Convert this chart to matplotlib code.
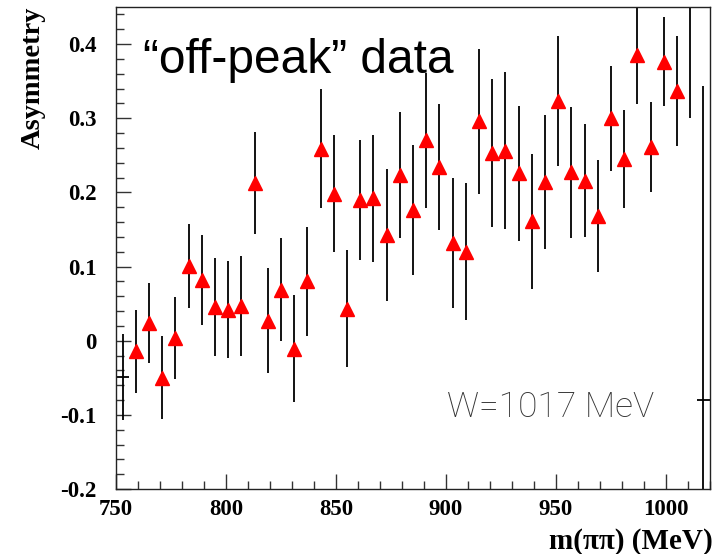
import matplotlib
matplotlib.use("Agg")
import matplotlib.pyplot as plt
from matplotlib.ticker import MultipleLocator

mass = [753, 759, 765, 771, 777, 783, 789, 795, 801, 807, 813, 819, 825, 831,
        837, 843, 849, 855, 861, 867, 873, 879, 885, 891, 897, 903, 909, 915,
        921, 927, 933, 939, 945, 951, 957, 963, 969, 975, 981, 987, 993, 999,
        1005, 1011, 1017]
asym = [-0.049, -0.014, 0.024, -0.050, 0.004, 0.101, 0.082, 0.046, 0.042,
        0.047, 0.213, 0.027, 0.069, -0.011, 0.080, 0.259, 0.198, 0.043,
        0.190, 0.192, 0.143, 0.224, 0.176, 0.270, 0.234, 0.132, 0.120,
        0.296, 0.253, 0.256, 0.226, 0.161, 0.214, 0.323, 0.227, 0.216,
        0.168, 0.300, 0.245, 0.385, 0.261, 0.376, 0.337, 0.500, -0.080]
err = [0.058, 0.056, 0.054, 0.056, 0.055, 0.057, 0.061, 0.066, 0.066, 0.067,
       0.069, 0.071, 0.069, 0.072, 0.073, 0.080, 0.079, 0.079, 0.081, 0.086,
       0.089, 0.085, 0.088, 0.091, 0.085, 0.088, 0.092, 0.098, 0.100, 0.106,
       0.091, 0.091, 0.090, 0.088, 0.088, 0.076, 0.076, 0.071, 0.066, 0.066,
       0.061, 0.060, 0.074, 0.200, 0.424]
# edge bins are drawn without a marker, only the error cross
no_marker = [753, 1017]
bin_half = 3

xticks = [750, 800, 850, 900, 950, 1000]
yticks = [-0.2, -0.1, 0.0, 0.1, 0.2, 0.3, 0.4]
ytick_labels = ["-0.2", "-0.1", "0", "0.1", "0.2", "0.3", "0.4"]

SERIF = "Liberation Serif"

fig = plt.figure(figsize=(7.23, 5.54), dpi=100)
ax = fig.add_axes([0.1604, 0.1173, 0.8216, 0.8701])

ax.errorbar(mass, asym, yerr=err, fmt="none", ecolor="black",
            elinewidth=1.3, capsize=0, zorder=2)

edge_x = [m for m in mass if m in no_marker]
edge_y = [a for m, a in zip(mass, asym) if m in no_marker]
ax.errorbar(edge_x, edge_y, xerr=bin_half, fmt="none", ecolor="black",
            elinewidth=1.3, capsize=0, zorder=2)

mk_x = [m for m in mass if m not in no_marker]
mk_y = [a for m, a in zip(mass, asym) if m not in no_marker]
ax.plot(mk_x, mk_y, "^", color="red", ms=10, mec="red", ls="none", zorder=3)

ax.set_xlim(750, 1020)
ax.set_ylim(-0.2, 0.45)
ax.set_xticks(xticks)
ax.set_xticklabels([str(t) for t in xticks])
ax.set_yticks(yticks)
ax.set_yticklabels(ytick_labels)
ax.xaxis.set_minor_locator(MultipleLocator(10))
ax.yaxis.set_minor_locator(MultipleLocator(0.02))
ax.tick_params(which="both", direction="in", top=False, right=False,
               color="#333333", width=1)
ax.tick_params(which="major", length=11)
ax.tick_params(which="minor", length=6)
ax.tick_params(axis="y", which="major", pad=14)
ax.tick_params(axis="x", which="major", pad=7)
for lab in ax.get_xticklabels() + ax.get_yticklabels():
    lab.set_fontfamily(SERIF)
    lab.set_fontweight("bold")
    lab.set_fontsize(16.5)

for sp in ax.spines.values():
    sp.set_linewidth(1.0)
    sp.set_color("#222222")

ax.set_ylabel("Asymmetry", fontfamily=SERIF, fontweight="bold",
              fontsize=20.5, loc="top")
ax.yaxis.set_label_coords(-0.118, 1.0)
ax.set_xlabel("m(\u03c0\u03c0) (MeV)", fontfamily=SERIF, fontweight="bold",
              fontsize=21, loc="right")
ax.xaxis.set_label_coords(1.004, -0.08)

ax.text(0.046, 0.863, "\u201coff-peak\u201d data", transform=ax.transAxes,
        fontfamily="Liberation Sans", fontsize=34.5, va="baseline", ha="left")
ax.text(0.557, 0.149, "W=1017 MeV", transform=ax.transAxes,
        fontfamily="Roboto", fontweight="light", fontsize=25.5,
        color="#333333", va="baseline", ha="left")

fig.savefig("out.png", dpi=100)
